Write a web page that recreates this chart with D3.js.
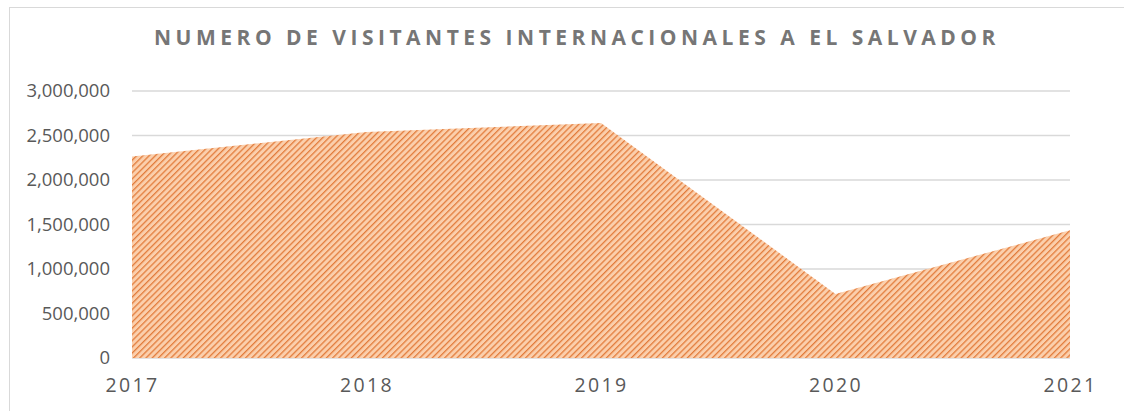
<!DOCTYPE html>
<html>
<head>
<meta charset="utf-8">
<script src="https://cdn.jsdelivr.net/npm/d3@7"></script>
<style>
    body { margin: 0; background: #fff; }
    svg { display: block; }
    .tick text { font-family: "Open Sans", "Liberation Sans", sans-serif; }
</style>
</head>
<body>
<div id="chart"></div>
<script>
"use strict";

var years = ["2017", "2018", "2019", "2020", "2021"];
var visitors = [2265000, 2540000, 2640000, 720000, 1435000];
var yTicks = [0, 500000, 1000000, 1500000, 2000000, 2500000, 3000000];
var chartTitle = "NUMERO DE VISITANTES INTERNACIONALES A EL SALVADOR";

(function () {
    var width = 1124, height = 411;
    var margin = { top: 91, right: 54, bottom: 53, left: 132 };
    var innerW = width - margin.left - margin.right;
    var innerH = height - margin.top - margin.bottom;

    var svg = d3.select("#chart").append("svg")
        .attr("width", width)
        .attr("height", height);

    // hatch fill, upward diagonal
    var pattern = svg.append("defs").append("pattern")
        .attr("id", "hatch")
        .attr("patternUnits", "userSpaceOnUse")
        .attr("width", 4.4)
        .attr("height", 4.4)
        .attr("patternTransform", "rotate(45)");
    pattern.append("rect")
        .attr("width", 4.4).attr("height", 4.4)
        .attr("fill", "#fbcfac");
    pattern.append("line")
        .attr("x1", 0).attr("y1", 0).attr("x2", 0).attr("y2", 4.4)
        .attr("stroke", "#e27c3c")
        .attr("stroke-width", 2.6);

    // chart border
    svg.append("rect")
        .attr("x", 9.5).attr("y", 7.5)
        .attr("width", width + 20).attr("height", height + 20)
        .attr("fill", "none")
        .attr("stroke", "#d9d9d9");

    svg.append("text")
        .attr("x", 577)
        .attr("y", 45)
        .attr("text-anchor", "middle")
        .style("font-family", "'Open Sans', 'Liberation Sans', sans-serif")
        .style("font-size", "21px")
        .style("font-weight", "bold")
        .style("letter-spacing", "4.5px")
        .style("fill", "#767676")
        .text(chartTitle);

    var g = svg.append("g")
        .attr("transform", "translate(" + margin.left + "," + margin.top + ")");

    var x = d3.scalePoint()
        .domain(years)
        .range([0, innerW]);

    var y = d3.scaleLinear()
        .domain([0, 3000000])
        .range([innerH, 0]);

    // gridlines
    g.append("g")
        .selectAll("line")
        .data(yTicks)
        .enter().append("line")
        .attr("x1", 0).attr("x2", innerW)
        .attr("y1", function (d) { return y(d); })
        .attr("y2", function (d) { return y(d); })
        .attr("stroke", "#d9d9d9")
        .attr("stroke-width", 1.4);

    var area = d3.area()
        .x(function (d, i) { return x(years[i]); })
        .y0(innerH)
        .y1(function (d) { return y(d); });

    g.append("path")
        .datum(visitors)
        .attr("d", area)
        .attr("fill", "url(#hatch)");

    var yAxis = g.append("g")
        .call(d3.axisLeft(y)
            .tickValues(yTicks)
            .tickSize(0)
            .tickPadding(22)
            .tickFormat(d3.format(",")));
    yAxis.select(".domain").remove();
    yAxis.selectAll("text")
        .style("font-size", "18.5px")
        .style("fill", "#595959");

    var xAxis = g.append("g")
        .attr("transform", "translate(0," + innerH + ")")
        .call(d3.axisBottom(x).tickSize(0).tickPadding(20));
    xAxis.select(".domain").remove();
    xAxis.selectAll("text")
        .style("font-size", "19.5px")
        .style("letter-spacing", "2.4px")
        .style("fill", "#595959");
}());
</script>
</body>
</html>
